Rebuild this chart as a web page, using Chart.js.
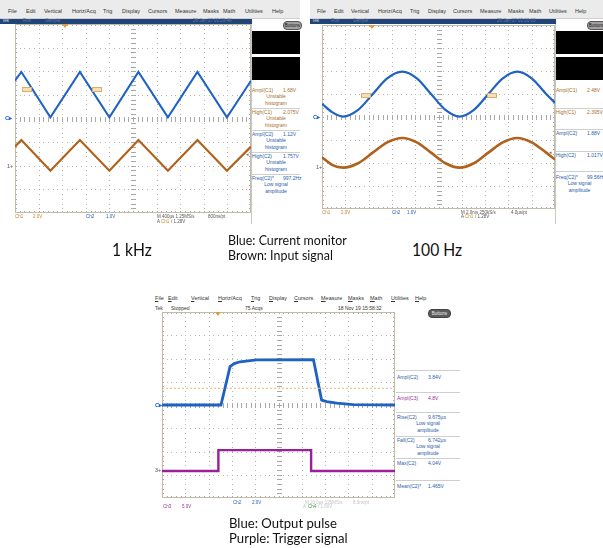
<!DOCTYPE html>
<html>
<head>
<meta charset="utf-8">
<script src="https://cdn.jsdelivr.net/npm/chart.js@4.4.0/dist/chart.umd.min.js"></script>
<style>
  body { margin: 0; width: 603px; height: 548px; position: relative; background: #fff; overflow: hidden;
         font-family: "Liberation Sans", Arial, sans-serif; }
  .abs { position: absolute; white-space: nowrap; line-height: 1; }
  .cap { position: absolute; white-space: nowrap; line-height: 1; font-family: Lato, sans-serif; color: #111; transform-origin: 0 0; }
</style>
</head>
<body>
<script>
// ---- 1 kHz scope (x in divisions 0..10, y in divisions -4..4)
const khzX = [0, 0.27, 1.5, 2.75, 4.0, 5.23, 6.48, 7.73, 8.98, 10];
const khzBlue = [1.6, 1.97, 0.05, 1.97, 0.05, 1.97, 0.05, 1.97, 0.05, 1.6];
const khzBrown = [-1.19, -0.91, -2.21, -0.91, -2.21, -0.91, -2.21, -0.91, -2.21, -1.19];

// ---- 100 Hz scope
const hzX = [0, 0.45, 0.9, 1.55, 2.18, 2.8, 3.45, 4.07, 4.68, 5.3, 5.9, 6.52, 7.14, 7.76, 8.38, 9.0, 9.62, 10];
const hzBlue = [0.57, 0.2, 0.02, 0.31, 1.0, 1.68, 1.97, 1.68, 1.0, 0.31, 0.02, 0.31, 1.0, 1.68, 1.97, 1.68, 1.0, 0.62];
const hzBrown = [-1.75, -2.09, -2.2, -2.01, -1.55, -1.1, -0.91, -1.1, -1.55, -2.01, -2.2, -2.01, -1.55, -1.1, -0.91, -1.1, -1.55, -1.85];

// ---- pulse scope
const pulseX = [0, 2.53, 2.92, 3.1, 3.35, 3.7, 4.06, 6.5, 6.85, 7.07, 7.5, 8.2, 10];
const pulseBlue = [0, 0, 1.65, 1.78, 1.86, 1.9, 1.94, 1.95, 0.21, 0.15, 0.08, 0.02, 0];
const trigX = [0, 2.42, 2.42, 6.4, 6.4, 10];
const trigPurple = [-2.84, -2.84, -1.94, -1.94, -2.84, -2.84];
const trigLevel = 0.72;

// ---- measurement panels
const khzMeas = [
  ['C1', 'Ampl(C1)', '1.68V', 'Unstable', 'histogram'],
  ['C1', 'High(C1)', '2.075V', 'Unstable', 'histogram'],
  ['C2', 'Ampl(C2)', '1.12V', 'Unstable', 'histogram'],
  ['C2', 'High(C2)', '1.757V', 'Unstable', 'histogram'],
  ['C2', 'Freq(C2)*', '997.2Hz', 'Low signal', 'amplitude']
];
const hzMeas = [
  ['C1', 'Ampl(C1)', '2.48V'],
  ['C1', 'High(C1)', '2.395V'],
  ['C2', 'Ampl(C2)', '1.88V'],
  ['C2', 'High(C2)', '1.017V'],
  ['C2', 'Freq(C2)*', '99.56Hz', 'Low signal', 'amplitude']
];
const pulseMeas = [
  ['C2', 'Ampl(C2)', '3.84V'],
  ['C3', 'Ampl(C3)', '4.8V'],
  ['C2', 'Rise(C2)', '9.675µs', 'Low signal', 'amplitude'],
  ['C2', 'Fall(C2)', '6.742µs', 'Low signal', 'amplitude'],
  ['C2', 'Max(C2)', '4.04V'],
  ['C2', 'Mean(C2)*', '1.465V']
];
const menuItems = ['File', 'Edit', 'Vertical', 'Horiz/Acq', 'Trig', 'Display', 'Cursors', 'Measure', 'Masks', 'Math', 'Utilities', 'Help'];

const BLUE = '#1f63c2', BROWN = '#b0621c', PURPLE = '#99209a';
const chanColor = { C1: '#a86f2a', C2: '#2a5ea8', C3: '#93309a' };

function el(x, y, w, h, css) {
  const d = document.createElement('div');
  d.className = 'abs';
  d.style.cssText += `left:${x}px;top:${y}px;` + (w != null ? `width:${w}px;` : '') + (h != null ? `height:${h}px;` : '') + (css || '');
  document.body.appendChild(d);
  return d;
}
function txt(x, yc, s, color, size, css) {
  size = size || 5;
  const d = el(x, yc - size / 2, null, null, `font-size:${size}px;color:${color || '#555'};` + (css || ''));
  d.textContent = s;
  return d;
}

// dotted graticule with center ticks, drawn through the chart's own scales
const graticule = {
  id: 'graticule',
  beforeDatasetsDraw(chart) {
    const { ctx, chartArea: a, scales: { x, y } } = chart;
    ctx.save();
    ctx.fillStyle = '#b4b4b4';
    for (let i = 1; i < 10; i++) {
      const px = Math.round(x.getPixelForValue(i));
      for (let v = -4; v <= 4.001; v += 0.2) ctx.fillRect(px, Math.round(y.getPixelForValue(v)), 1, 1);
    }
    for (let j = -3; j <= 3; j++) {
      const py = Math.round(y.getPixelForValue(j));
      for (let v = 0; v <= 10.001; v += 0.2) ctx.fillRect(Math.round(x.getPixelForValue(v)), py, 1, 1);
    }
    ctx.fillStyle = '#a8a8a8';
    const cx = Math.round(x.getPixelForValue(5)), cy = Math.round(y.getPixelForValue(0));
    for (let v = 0; v <= 10.001; v += 0.2) ctx.fillRect(Math.round(x.getPixelForValue(v)), cy - 2, 1, 5);
    for (let v = -4; v <= 4.001; v += 0.2) ctx.fillRect(cx - 2, Math.round(y.getPixelForValue(v)), 5, 1);
    for (let v = 0; v <= 10.001; v += 0.2) {
      ctx.fillRect(Math.round(x.getPixelForValue(v)), a.top, 1, 2);
      ctx.fillRect(Math.round(x.getPixelForValue(v)), a.bottom - 2, 1, 2);
    }
    for (let v = -4; v <= 4.001; v += 0.2) {
      ctx.fillRect(a.left, Math.round(y.getPixelForValue(v)), 2, 1);
      ctx.fillRect(a.right - 2, Math.round(y.getPixelForValue(v)), 2, 1);
    }
    ctx.strokeStyle = '#c3bba9';
    ctx.lineWidth = 1;
    ctx.strokeRect(a.left + 0.5, a.top + 0.5, a.right - a.left - 1, a.bottom - a.top - 1);
    ctx.restore();
  }
};

function trace(xs, ys, color, width, smooth) {
  return {
    data: xs.map((v, i) => ({ x: v, y: ys[i] })),
    borderColor: color, borderWidth: width, pointRadius: 0, fill: false,
    tension: smooth ? 0.4 : 0, cubicInterpolationMode: smooth ? 'monotone' : 'default'
  };
}

function makeChart(r, datasets) {
  const wrap = el(r.x, r.y, r.w, r.h, '');
  const cv = document.createElement('canvas');
  wrap.appendChild(cv);
  return new Chart(cv, {
    type: 'line',
    data: { datasets },
    options: {
      responsive: true, maintainAspectRatio: false, animation: false,
      layout: { padding: 0 },
      plugins: { legend: { display: false }, tooltip: { enabled: false } },
      scales: {
        x: { type: 'linear', min: 0, max: 10, display: false },
        y: { type: 'linear', min: -4, max: 4, display: false }
      }
    },
    plugins: [graticule]
  });
}

function menuBar(left, width, yc, offsets, bg) {
  if (bg) el(left, 0, width, 18, 'background:#ebebeb;border-bottom:1px solid #d0d0d0;');
  menuItems.forEach((m, i) => txt(left + offsets[i], yc, m, '#333', 5.5));
}

function panel(px, pw, meas, rows, labelX, valueX) {
  meas.forEach((m, i) => {
    const r = rows[i];
    const c = chanColor[m[0]];
    txt(px + labelX, r, m[1], c, 5);
    txt(px + valueX, r, m[2], c, 5);
    if (m[3]) {
      txt(px, r + 6.8, m[3], c, 5, `width:${pw}px;text-align:center;`);
      txt(px, r + 13.6, m[4], c, 5, `width:${pw}px;text-align:center;`);
    }
  });
}
function seps(px, pw, ys) { ys.forEach(y => el(px, y, pw, 0, 'border-top:1px solid #cfcfcf;')); }
function trigArrow(x, y) { el(x - 3, y, 0, 0, 'border-left:3px solid transparent;border-right:3px solid transparent;border-top:4px solid #e39a3c;'); }
function cursorTag(x, y) { el(x, y, 8, 3, 'background:#f3dfb8;border:1px solid #dcae6a;'); }
function buttons(x, y, w, dark) {
  const d = el(x, y, w, 7, `border-radius:4px;font-size:4.5px;line-height:7px;text-align:center;` +
    (dark ? 'background:#5c5c5c;color:#eee;border:1px solid #444;' : 'background:#a3a3a3;color:#111;border:1px solid #555;'));
  d.textContent = 'Buttons';
}

// ================= 1 kHz =================
menuBar(0, 300, 12, [8, 26, 44, 72, 103, 122, 148, 175, 203, 223, 245, 272], true);
el(0, 18.5, 252, 5.5, 'background:#1f4477;');
txt(2, 21.3, 'Tek', '#d8deea', 4.5);
txt(23, 21.3, 'Run', '#6279a3', 4.5);
txt(45, 21.3, 'Sample', '#6279a3', 4.5);
txt(193, 21.3, '28 Jan 17 03:29:48', '#6279a3', 4.5);
buttons(283, 20.5, 17, false);
el(252, 31, 48, 23, 'background:#000;');
el(252, 57, 48, 23, 'background:#000;');
el(251, 24, 0, 200, 'border-left:1px solid #c8c8c8;');
seps(252, 48, [108, 130, 152, 174]);
panel(252, 48, khzMeas, [90, 112, 134, 156, 178], 0, 31);
makeChart({ x: 15, y: 24, w: 236, h: 189 }, [
  trace(khzX, khzBlue, BLUE, 2, false),
  trace(khzX, khzBrown, BROWN, 2.2, false)
]);
trigArrow(65, 24);
cursorTag(22, 87); cursorTag(92, 87);
txt(5, 118, 'C▸', BLUE, 6, 'font-weight:bold;');
txt(7, 166.7, '1+', '#555', 5.5);
txt(246, 154, '◂', BROWN, 5);
txt(15, 217.5, 'Ch1', '#c47f2c', 4.5); txt(33, 217.5, '2.0V', '#c47f2c', 4.5);
txt(86, 217.5, 'Ch2', '#2a62b0', 4.5); txt(106, 217.5, '1.0V', '#2a62b0', 4.5);
txt(157, 217.5, 'M 400µs 1.25MS/s', '#555', 4.5); txt(208, 217.5, '800ns/pt', '#555', 4.5);
txt(157, 222.3, 'A', '#555', 4.5); txt(161, 222.3, 'Ch1', '#c47f2c', 4.5); txt(171, 222.3, '/  1.28V', '#555', 4.5);

// ================= 100 Hz =================
menuBar(310, 293, 12, [7, 24, 41, 68, 100, 118, 143, 170, 198, 219, 239, 265], true);
el(310, 18.5, 246, 5.5, 'background:#1f4477;');
txt(312, 21.3, 'Tek', '#d8deea', 4.5);
txt(331, 21.3, 'Run', '#6279a3', 4.5);
txt(353, 21.3, 'Sample', '#6279a3', 4.5);
txt(497, 21.3, '29 Jan 17 03:20:15', '#6279a3', 4.5);
buttons(587, 20.5, 17, false);
el(555, 31, 48, 23, 'background:#000;');
el(555, 57, 48, 23, 'background:#000;');
el(555, 24, 0, 200, 'border-left:1px solid #c8c8c8;');
seps(556, 47, [108, 129, 151, 171]);
panel(556, 47, hzMeas, [90, 112, 133, 155, 177], 0, 31);
makeChart({ x: 322, y: 25, w: 233, h: 184 }, [
  trace(hzX, hzBlue, BLUE, 2.2, true),
  trace(hzX, hzBrown, BROWN, 2.6, true)
]);
trigArrow(372, 25);
cursorTag(361, 93); cursorTag(487, 93);
txt(313, 117, 'C▸', BLUE, 6, 'font-weight:bold;');
txt(316, 167.3, '1+', '#555', 5.5);
txt(549, 152.7, '◂', BROWN, 5);
txt(322, 213.3, 'Ch1', '#c47f2c', 4.5); txt(341, 213.3, '2.0V', '#c47f2c', 4.5);
txt(392, 213.3, 'Ch2', '#2a62b0', 4.5); txt(407, 213.3, '1.0V', '#2a62b0', 4.5);
txt(461, 213.3, 'M 2.0ms 250kS/s', '#555', 4.5); txt(511, 213.3, '4.0µs/pt', '#555', 4.5);
txt(461, 217.7, 'A', '#555', 4.5); txt(465, 217.7, 'Ch1', '#c47f2c', 4.5); txt(475, 217.7, '/  1.28V', '#555', 4.5);

// ================= pulse =================
menuItems.forEach((m, i) => {
  const d = txt(155 + [0, 13, 36, 63, 96, 114, 139, 166, 193, 215, 236, 260][i], 298.5, m, '#333', 5.5);
  d.innerHTML = '<u>' + m[0] + '</u>' + m.slice(1);
});
txt(155, 308, 'Tek', '#333', 5); txt(171, 308, 'Stopped', '#333', 5);
txt(245, 308, '75 Acqs', '#333', 5); txt(338, 308, '18 Nov 19 15:58:32', '#333', 5);
buttons(428, 308.5, 21, true);
seps(396, 64, [370, 392, 412, 436, 458, 480]);
panel(396, 64, pulseMeas, [377, 398, 417, 440, 463, 486], 1, 32);
const trigLine = trace([0, 10], [trigLevel, trigLevel], '#e8b46e', 1, false);
trigLine.borderDash = [2, 2];
makeChart({ x: 162, y: 312, w: 233, h: 186 }, [
  trigLine,
  trace(pulseX, pulseBlue, BLUE, 2.8, false),
  trace(trigX, trigPurple, PURPLE, 2.4, false)
]);
trigArrow(218, 312);
txt(155, 405, 'C▸', BLUE, 6, 'font-weight:bold;');
txt(155, 471, '3+', '#555', 5.5);
txt(163, 507.5, 'Ch3', '#93309a', 4.5); txt(182, 507.5, '5.0V', '#93309a', 4.5);
txt(233, 503, 'Ch2', '#2a62b0', 4.5); txt(252, 503, '2.0V', '#2a62b0', 4.5);
txt(305, 503, 'M 20.0µs 125MS/s', '#c4c4c4', 4.5); txt(353, 503, '8.0ns/pt', '#c4c4c4', 4.5);
txt(303, 507.7, 'A', '#c4c4c4', 4.5); txt(308, 507.7, 'Ch4', '#3d9a3d', 4.5); txt(318, 507.7, '/  1.60V', '#c4c4c4', 4.5);

// ================= captions =================
// groups share one horizontal squeeze, fitted on the first line's width
const captionGroups = [
  [[['1 kHz', 112, 243.3], ['100 Hz', 411.5, 243.3]], 18, 40],
  [[['Blue: Current monitor', 228, 235], ['Brown: Input signal', 228, 250.7]], 14, 119],
  [[['Blue: Output pulse', 229, 519.3], ['Purple: Trigger signal', 229, 534.3]], 13, 108]
];
captionGroups.forEach(([lines, fs, w]) => {
  let k = null;
  lines.forEach(([s, x, capTop]) => {
    const d = document.createElement('div');
    d.className = 'cap';
    d.style.left = x + 'px';
    d.style.top = (capTop - 0.17 * fs) + 'px';
    d.style.fontSize = fs + 'px';
    d.textContent = s;
    document.body.appendChild(d);
    if (k === null) k = w / d.offsetWidth;
    d.style.transform = `scaleX(${k})`;
  });
});
</script>
</body>
</html>
